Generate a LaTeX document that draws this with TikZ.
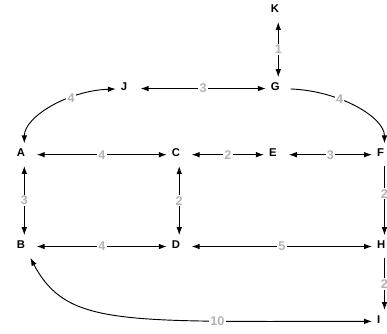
\documentclass[tikz,border=0pt]{standalone}
\usepackage{fontspec}
\setmainfont{Liberation Sans}
\usepackage{xcolor}
\usetikzlibrary{shapes,arrows,arrows.meta,positioning}
\definecolor{weightgray}{HTML}{B3B3B3}

\begin{document}
\begin{tikzpicture}[
    vertex/.style={inner xsep=3.5pt, inner ysep=4pt, text width=11pt, align=left, text depth=2.5pt, font=\fontsize{8.5}{10}\selectfont\bfseries},
    weight/.style={fill=white, inner sep=1pt, text=weightgray, font=\fontsize{9.5}{11}\selectfont\bfseries},
    >={Latex[length=6pt,width=4.2pt]}, line width=0.7pt]
    \useasboundingbox (-0.643,-4.744) rectangle (9.597,4.093);
    \node (A) [vertex] at (0,0) {A};
    \node (C) [vertex, node distance=4.10cm, right of=A] {C};
    \node (E) [vertex, node distance=2.57cm, right of=C] {E};
    \node (F) [vertex, node distance=2.86cm, right of=E] {F};
    \node (G) [vertex, node distance=1.75cm, above of=E, xshift=0.05cm] {G};
    \node (J) [vertex, node distance=3.97cm, left of=G] {J};
    \node (K) [vertex, node distance=2.06cm, above of=G] {K};
    \node (B) [vertex, node distance=2.43cm, below of=A] {B};
    \node (D) [vertex, node distance=2.43cm, below of=C] {D};
    \node (H) [vertex, node distance=2.43cm, below of=F] {H};
    \node (I) [vertex, node distance=1.98cm, below of=H] {I};

    \draw[<->] (K) -- (G) node[weight, midway] {1};
    \draw[<->] (J) -- (G) node[weight, midway] {3};
    \draw[<->] (A) .. controls +(90:1cm) and +(182:1.6cm) .. (J) node[weight, pos=0.67] {4};
    \draw[->] (G) .. controls +(-2:1.6cm) and +(90:1cm) .. (F) node[weight, pos=0.36] {4};
    \draw[<->] (A) -- (C) node[weight, midway] {4};
    \draw[<->] (C) -- (E) node[weight, midway] {2};
    \draw[<->] (E) -- (F) node[weight, midway] {3};
    \draw[<->] (A) -- (B) node[weight, midway] {3};
    \draw[<->] (C) -- (D) node[weight, midway] {2};
    \draw[->] (F) -- (H) node[weight, pos=0.4] {2};
    \draw[<->] (B) -- (D) node[weight, midway] {4};
    \draw[<->] (D) -- (H) node[weight, midway] {5};
    \draw[->] (H) -- (I) node[weight, midway] {2};
    \draw[<->] (I) .. controls +(180:7cm) and +(-62:2.4cm) .. (B) node[weight, pos=0.25] {10};
\end{tikzpicture}
\end{document}
